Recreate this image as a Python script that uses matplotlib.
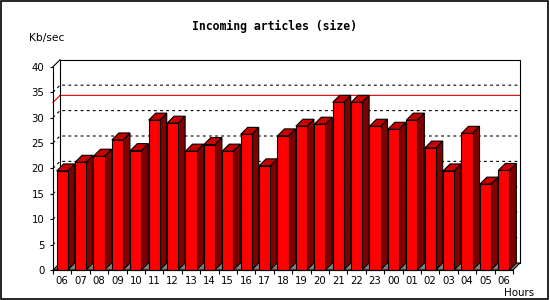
import matplotlib
matplotlib.use("Agg")
import matplotlib.pyplot as plt
from matplotlib.patches import Polygon, Rectangle
from matplotlib.ticker import MultipleLocator, FixedLocator

# Data
hours = ["06", "07", "08", "09", "10", "11", "12", "13", "14", "15", "16", "17",
         "18", "19", "20", "21", "22", "23", "00", "01", "02", "03", "04", "05", "06"]
kbps = [19.5, 21.2, 22.4, 25.6, 23.5, 29.5, 28.9, 23.4, 24.7, 23.4, 26.7, 20.5,
        26.4, 28.3, 28.7, 33.0, 33.0, 28.3, 27.7, 29.5, 24.0, 19.5, 26.9, 16.9, 19.6]
y_ticks = [0, 5, 10, 15, 20, 25, 30, 35, 40]
grid_levels = [5, 10, 15, 20, 25, 30, 35]

title = "Incoming articles (size)"
y_title = "Kb/sec"
x_title = "Hours"

# Figure in pixels (550x300 at 100 dpi)
W, H, DPI = 550, 300, 100
fig = plt.figure(figsize=(W / DPI, H / DPI), dpi=DPI)
fig.patch.set_facecolor("white")

# Front plane of the plot
ax_l, ax_b, ax_w, ax_h = 53, 30, 460, 203.2
ax = fig.add_axes([ax_l / W, ax_b / H, ax_w / W, ax_h / H])
n = len(kbps)
ymax = 40
ax.set_xlim(0, n)
ax.set_ylim(0, ymax)
ax.set_facecolor("none")

# 3D depth, 7 px right and up, converted to data units
depth_px = 7
dx = depth_px * n / ax_w
dy = depth_px * ymax / ax_h

lw = 0.8
dots = (0, (2.5, 3.0))

# Grid on back wall (with diagonal on the left wall)
for v in grid_levels:
    ax.plot([0, dx, n + dx], [v, v + dy, v + dy], color="black", lw=lw,
            linestyle=dots, clip_on=False, zorder=1)

# Max line in red
vmax = max(kbps)
ax.plot([0, dx, n + dx], [vmax, vmax + dy, vmax + dy], color="#e00000", lw=lw,
        clip_on=False, zorder=1.2)

# Back box
ax.plot([dx, dx, n + dx, n + dx], [dy, ymax + dy, ymax + dy, dy],
        color="black", lw=lw, clip_on=False, zorder=1.3)
ax.plot([0, dx], [ymax, ymax + dy], color="black", lw=lw, clip_on=False, zorder=1.3)

# Floor
ax.add_patch(Polygon([(0, 0), (n, 0), (n + dx, dy), (dx, dy)], closed=True,
                     facecolor="#808080", edgecolor="black", lw=lw,
                     clip_on=False, zorder=1.5))

# Bars: side and top faces, then the front faces
bw = 0.6
xs = [i + 0.5 for i in range(n)]
for x, v in zip(xs, kbps):
    l, r = x - bw / 2, x + bw / 2
    side = Polygon([(r, 0), (r + dx, dy), (r + dx, v + dy), (r, v)], closed=True,
                   facecolor="#800000", edgecolor="black", lw=lw,
                   clip_on=False, zorder=2)
    top = Polygon([(l, v), (l + dx, v + dy), (r + dx, v + dy), (r, v)], closed=True,
                  facecolor="#c80000", edgecolor="black", lw=lw,
                  clip_on=False, zorder=2)
    ax.add_patch(side)
    ax.add_patch(top)
ax.bar(xs, kbps, width=bw, color="#ff0000", edgecolor="black", linewidth=lw,
       zorder=3, clip_on=False)

# Axes styling
for s in ("top", "right"):
    ax.spines[s].set_visible(False)
for s in ("left", "bottom"):
    ax.spines[s].set_linewidth(lw)
    ax.spines[s].set_zorder(4)

ax.yaxis.set_major_locator(FixedLocator(y_ticks))
ax.set_yticklabels([str(t) for t in y_ticks])
ax.tick_params(axis="y", direction="out", length=2.4, width=lw, pad=3.8,
               labelsize=7.3, colors="black")

ax.set_xticks(xs)
ax.set_xticklabels(hours)
ax.xaxis.set_minor_locator(MultipleLocator(1))
ax.tick_params(axis="x", which="major", length=0, pad=4.2, labelsize=7.3)
ax.tick_params(axis="x", which="minor", direction="out", length=3, width=lw)

# Texts
fig.text(274 / W, 1 - 26.5 / H, title, ha="center", va="center",
         family="DejaVu Sans Mono", weight="bold", fontsize=8.3)
fig.text(29 / W, 1 - 41 / H, y_title, ha="left", va="baseline", fontsize=7.7)
fig.text(534 / W, 1 - 296 / H, x_title, ha="right", va="baseline", fontsize=7.4)

# Outer frame
fig.patches.append(Rectangle((0.5 / W, 1.5 / H), 547 / W, 297.5 / H,
                             transform=fig.transFigure, fill=False,
                             edgecolor="black", lw=1.2))

fig.savefig("out.png", dpi=DPI)
